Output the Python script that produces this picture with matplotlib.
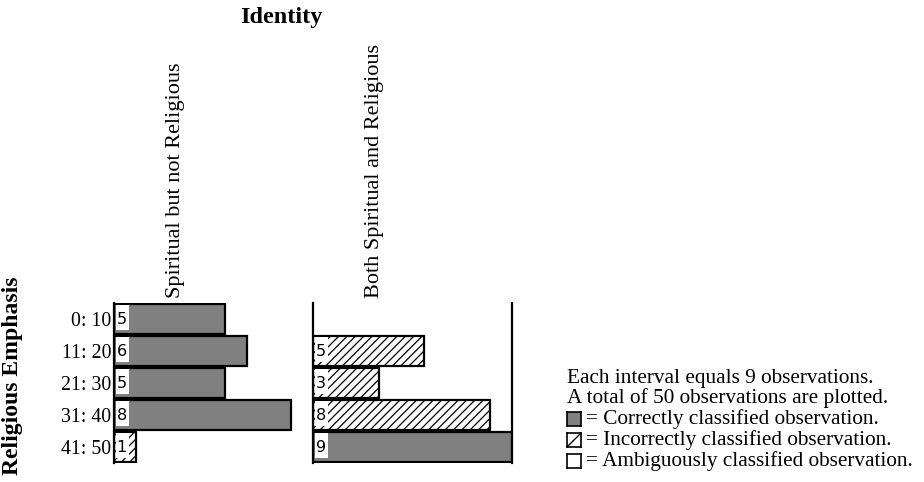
import matplotlib
matplotlib.use("Agg")
import matplotlib.pyplot as plt

# Interval labels (rows) and the two identity groups (columns)
intervals = ["0: 10", "11: 20", "21: 30", "31: 40", "41: 50"]
groups = ["Spiritual but not Religious", "Both Spiritual and Religious"]

# Observation counts per interval for each group
counts_sbnr = [5, 6, 5, 8, 1]
counts_both = [0, 5, 3, 8, 9]

# Classification of each bar: "correct", "incorrect" or "ambiguous"
class_sbnr = ["correct", "correct", "correct", "correct", "incorrect"]
class_both = ["correct", "incorrect", "incorrect", "incorrect", "correct"]

interval_size = 9
total_obs = 50

SERIF = ["Liberation Serif", "DejaVu Serif"]
W, H = 924, 482
DPI = 100

styles = {
    "correct": dict(color="#808080", hatch=None),
    "incorrect": dict(color="white", hatch="////"),
    "ambiguous": dict(color="white", hatch=None),
}

plt.rcParams["hatch.linewidth"] = 0.9

fig = plt.figure(figsize=(W / DPI, H / DPI), dpi=DPI)


def px_rect(x0, y0, x1, y1):
    return [x0 / W, 1 - y1 / H, (x1 - x0) / W, (y1 - y0) / H]


panel_top, panel_bottom = 303, 463
ax_l = fig.add_axes(px_rect(114, panel_top, 313, panel_bottom))
ax_r = fig.add_axes(px_rect(313, panel_top, 512, panel_bottom))


def draw_panel(ax, counts, classes, title):
    rows = range(len(counts))
    for i, (c, k) in zip(rows, zip(counts, classes)):
        if c <= 0:
            continue
        st = styles[k]
        ax.barh(i, c, height=0.94, left=0, color=st["color"],
                hatch=st["hatch"], edgecolor="black", linewidth=1.6)
        # white label background and count
        ax.barh(i - 0.04, 0.62, height=0.78, left=0.07, color="white",
                edgecolor="none", zorder=3)
        ax.text(0.12, i, str(c), ha="left", va="center", fontsize=11.5,
                family="DejaVu Sans", zorder=4)
    ax.set_xlim(0, interval_size)
    ax.set_ylim(len(counts) - 0.5, -0.5)
    ax.set_xticks([])
    for s in ("top", "bottom", "right"):
        ax.spines[s].set_visible(False)
    ax.spines["left"].set_linewidth(1.6)
    ax.text(0.31, 1 + 5 / 160, title, rotation=90, ha="center", va="bottom",
            transform=ax.transAxes, fontsize=16, family=SERIF)


draw_panel(ax_l, counts_sbnr, class_sbnr, groups[0])
draw_panel(ax_r, counts_both, class_both, groups[1])
ax_r.spines["right"].set_visible(True)
ax_r.spines["right"].set_linewidth(1.6)

ax_l.set_yticks(range(len(intervals)))
ax_l.set_yticklabels(intervals, fontsize=14.3, family=SERIF)
ax_l.tick_params(axis="y", length=0, pad=2)
ax_r.set_yticks([])

fig.text(281 / W, 1 - 18 / H, "Identity", ha="center", va="center",
         fontsize=17.4, fontweight="bold", family=SERIF)
fig.text(13 / W, 1 - 376 / H, "Religious Emphasis", rotation=90,
         ha="center", va="center", fontsize=17, fontweight="bold", family=SERIF)

# Legend block
lx = 567
lines = [
    (378, None, f"Each interval equals {interval_size} observations."),
    (398, None, f"A total of {total_obs} observations are plotted."),
    (419, "correct", "= Correctly classified observation."),
    (440, "incorrect", "= Incorrectly classified observation."),
    (461, "ambiguous", "= Ambiguously classified observation."),
]
for y, k, txt in lines:
    if k is None:
        fig.text(lx / W, 1 - y / H, txt, ha="left", va="center",
                 fontsize=15.3, family=SERIF)
    else:
        sq = fig.add_axes(px_rect(lx, y - 7, lx + 14, y + 7))
        st = styles[k]
        sq.set_facecolor(st["color"])
        if k == "incorrect":
            sq.plot([0, 1], [0, 1], color="black", lw=1.0)
            sq.set_xlim(0, 1)
            sq.set_ylim(0, 1)
        sq.set_xticks([])
        sq.set_yticks([])
        for s in sq.spines.values():
            s.set_linewidth(1.2)
        fig.text((lx + 19) / W, 1 - y / H, txt, ha="left", va="center",
                 fontsize=15.3, family=SERIF)

fig.savefig("out.png", dpi=DPI)
